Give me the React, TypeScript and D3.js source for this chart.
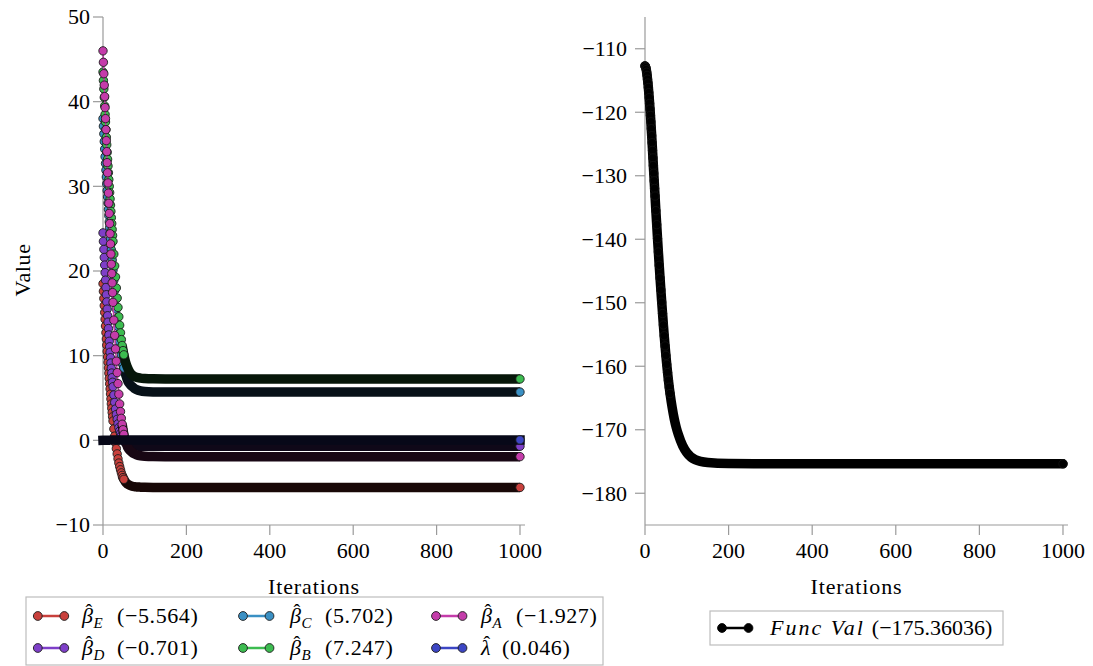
import React from "react";
import * as d3 from "d3";

const ITER = [0, 1, 2, 3, 4, 5, 6, 7, 8, 9, 10, 11, 12, 13, 14, 15, 16, 17, 18, 19, 20, 21, 22, 23, 24,
  26, 28, 30, 32, 34, 36, 38, 40, 42, 44, 46, 48, 50, 52, 54, 56, 58, 60,
  65, 70, 75, 80, 90, 100, 120, 150, 200, 300, 400, 500, 600, 700, 800, 900, 1000];

const BETA_E = [18.5, 17.6, 16.75, 15.9, 15.1, 14.3, 13.5, 12.72, 11.97, 11.23, 10.5, 9.85, 9.2, 8.55, 7.92, 7.3, 6.68, 6.07, 5.47, 4.88, 4.3, 3.78, 3.28, 2.78, 2.28,
  1.35, 0.5, -0.3, -0.98, -1.6, -2.18, -2.68, -3.1, -3.48, -3.84, -4.14, -4.4, -4.6, -4.76, -4.92, -5.04, -5.13, -5.2,
  -5.33, -5.42, -5.47, -5.5, -5.53, -5.55, -5.56, -5.563, -5.564,
  -5.564, -5.564, -5.564, -5.564, -5.564, -5.564, -5.564, -5.564];

const BETA_D = [24.5, 23.5, 22.55, 21.6, 20.7, 19.8, 18.92, 18.05, 17.2, 16.35, 15.5, 14.72, 13.96, 13.2, 12.45, 11.7, 11.05, 10.4, 9.76, 9.13, 8.5, 7.95, 7.4, 6.86, 6.33,
  5.35, 4.48, 3.7, 3.05, 2.48, 1.95, 1.5, 1.1, 0.8, 0.52, 0.28, 0.1, -0.05, -0.16, -0.26, -0.34, -0.4, -0.45,
  -0.54, -0.6, -0.64, -0.66, -0.69, -0.697, -0.699, -0.7, -0.701,
  -0.701, -0.701, -0.701, -0.701, -0.701, -0.701, -0.701, -0.701];

const BETA_C = [38.0, 37.1, 36.2, 35.3, 34.4, 33.5, 32.7, 31.9, 31.1, 30.3, 29.5, 28.76, 28.02, 27.28, 26.54, 25.8, 25.14, 24.48, 23.82, 23.16, 22.5, 21.9, 21.3, 20.7, 20.1,
  18.9, 17.7, 16.6, 15.5, 14.45, 13.45, 12.5, 11.65, 10.85, 10.12, 9.47, 8.98, 8.55, 8.15, 7.8, 7.5, 7.2, 6.95,
  6.6, 6.35, 6.15, 6.0, 5.83, 5.76, 5.715, 5.705, 5.702,
  5.702, 5.702, 5.702, 5.702, 5.702, 5.702, 5.702, 5.702];

const BETA_B = [43.5, 42.5, 41.5, 40.5, 39.5, 38.5, 37.6, 36.7, 35.8, 34.9, 34.0, 33.2, 32.4, 31.6, 30.8, 30.0, 29.26, 28.52, 27.78, 27.04, 26.3, 25.6, 24.9, 24.2, 23.5,
  22.0, 20.6, 19.3, 18.0, 16.8, 15.7, 14.6, 13.6, 12.7, 11.9, 11.2, 10.6, 10.1, 9.65, 9.27, 8.95, 8.68, 8.45,
  8.0, 7.72, 7.55, 7.45, 7.35, 7.3, 7.26, 7.25, 7.248,
  7.247, 7.247, 7.247, 7.247, 7.247, 7.247, 7.247, 7.247];

const BETA_A = [46.0, 44.65, 43.3, 41.95, 40.6, 39.3, 38.0, 36.7, 35.4, 34.1, 32.8, 31.6, 30.4, 29.2, 28.0, 26.8, 25.6, 24.4, 23.2, 22.0, 20.8, 19.7, 18.6, 17.45, 16.3,
  14.2, 12.4, 10.8, 9.35, 8.0, 6.7, 5.45, 4.3, 3.4, 2.6, 1.9, 1.25, 0.7, 0.25, -0.12, -0.42, -0.67, -0.9,
  -1.22, -1.45, -1.6, -1.7, -1.82, -1.88, -1.915, -1.925, -1.927,
  -1.927, -1.927, -1.927, -1.927, -1.927, -1.927, -1.927, -1.927];

const LAMBDA = [0, 0.002, 0.004, 0.006, 0.008, 0.01, 0.012, 0.013, 0.015, 0.016, 0.018, 0.019, 0.02, 0.021, 0.022, 0.023, 0.024, 0.025, 0.026, 0.027, 0.028, 0.029, 0.029, 0.03, 0.031,
  0.032, 0.033, 0.034, 0.035, 0.036, 0.037, 0.038, 0.038, 0.039, 0.04, 0.04, 0.041, 0.041, 0.042, 0.042, 0.042, 0.043, 0.043,
  0.044, 0.044, 0.045, 0.045, 0.045, 0.046, 0.046, 0.046, 0.046,
  0.046, 0.046, 0.046, 0.046, 0.046, 0.046, 0.046, 0.046];

const FUNC_VAL = [-112.7, -112.8, -113.0, -113.3, -113.7, -114.2, -114.8, -115.4, -116.1, -116.9, -117.7, -118.6, -119.5, -120.5, -121.5, -122.6, -123.7, -124.8, -126.0, -127.2, -128.4, -129.6, -130.8, -132.0, -133.2,
  -135.5, -137.7, -139.9, -142.0, -144.1, -146.1, -148.0, -149.9, -151.7, -153.5, -155.2, -156.8, -158.3, -159.7, -161.0, -162.2, -163.3, -164.3,
  -166.5, -168.3, -169.7, -170.8, -172.5, -173.6, -174.7, -175.15, -175.33,
  -175.36, -175.36, -175.36, -175.36, -175.36, -175.36, -175.36, -175.36];

const LEFT_Y_TICKS = [-10, 0, 10, 20, 30, 40, 50];
const RIGHT_Y_TICKS = [-180, -170, -160, -150, -140, -130, -120, -110];
const X_TICKS = [0, 200, 400, 600, 800, 1000];

// series in drawing order (E, D, C, B, A, lambda)
const SERIES_KEYS = ["E", "D", "C", "B", "A", "λ"];
const SERIES_VALUES = [BETA_E, BETA_D, BETA_C, BETA_B, BETA_A, LAMBDA];
const SERIES_FINAL = ["−5.564", "−0.701", "5.702", "7.247", "−1.927", "0.046"];
const SERIES_COLORS = ["#c8403c", "#7e3fc8", "#3a90c4", "#3cbc50", "#c43caa", "#3c46c4"];
// legend slots [column,row] for each series
const LEGEND_SLOTS = [[0, 0], [0, 1], [1, 0], [1, 1], [2, 0], [2, 1]];

const FONT = '"Liberation Serif", "Times New Roman", serif';
const AXIS_COLOR = "#9a9a9a";

const W = 1093, H = 666;

const xL = d3.scaleLinear().domain([0, 1012]).range([103, 525]);
const yL = d3.scaleLinear().domain([-10, 50]).range([525, 17]);
const xR = d3.scaleLinear().domain([0, 1012]).range([645, 1068]);
const yR = d3.scaleLinear().domain([-185, -105]).range([525, 17]);

type Pt = { it: number; v: number };
const toPts = (vals: number[]): Pt[] => ITER.map((it, i) => ({ it, v: vals[i] })).filter(d => d.v !== undefined);

const fmtTick = (v: number) => (v < 0 ? "−" + Math.abs(v) : String(v));

function Series({ pts, x, y, color, band, edge, bandFrom, dotsTo, cap }: any) {
  const line = d3.line<Pt>().x(d => x(d.it)).y(d => y(d.v)).curve(d3.curveMonotoneX);
  const bandPts = pts.filter((d: Pt) => d.it >= bandFrom);
  const early = pts.filter((d: Pt) => d.it <= dotsTo);
  const dotPts = pts.filter((d: Pt) => d.it <= dotsTo);
  const last = pts[pts.length - 1];
  return (
    <g>
      <path d={line(bandPts) || ""} fill="none" stroke={band} strokeWidth={9.5} strokeLinecap={cap || "butt"} />
      {early.length > 1 && <path d={line(early) || ""} fill="none" stroke={color} strokeWidth={1.5} />}
      {dotPts.map((d: Pt, i: number) => (
        <circle key={i} cx={x(d.it)} cy={y(d.v)} r={4.2} fill={color} stroke={edge} strokeWidth={0.9} />
      ))}
      <circle cx={x(last.it)} cy={y(last.v)} r={4.2} fill={color} stroke={edge} strokeWidth={0.9} />
    </g>
  );
}

function Axes({ x, y, yTicks, labelEnd, showYLabel }: any) {
  const [x0, x1] = x.range();
  const [y0, y1] = y.range();
  return (
    <g style={{ fontFamily: FONT }} fontSize={22} fill="#000">
      <line x1={x0} x2={x0} y1={y0} y2={y1} stroke={AXIS_COLOR} strokeWidth={1.2} />
      <line x1={x0} x2={x1} y1={y0} y2={y0} stroke={AXIS_COLOR} strokeWidth={1.2} />
      {yTicks.map((t: number) => (
        <g key={"y" + t}>
          <line x1={x0 - 10} x2={x0} y1={y(t)} y2={y(t)} stroke={AXIS_COLOR} strokeWidth={1.2} />
          <text x={labelEnd} y={y(t)} dy="0.34em" textAnchor="end" style={{ fontFamily: FONT }}>{fmtTick(t)}</text>
        </g>
      ))}
      {X_TICKS.map((t: number) => (
        <g key={"x" + t}>
          <line x1={x(t)} x2={x(t)} y1={y0} y2={y0 + 10} stroke={AXIS_COLOR} strokeWidth={1.2} />
          <text x={x(t)} y={y0 + 33} textAnchor="middle" style={{ fontFamily: FONT }}>{t}</text>
        </g>
      ))}
      <text x={(x0 + x1) / 2} y={594} textAnchor="middle" letterSpacing={0.9} style={{ fontFamily: FONT }}>Iterations</text>
      {showYLabel && (
        <text transform={`translate(30,270) rotate(-90)`} textAnchor="middle" letterSpacing={0.6} style={{ fontFamily: FONT }}>Value</text>
      )}
    </g>
  );
}

function LegendMarker({ x, y, color, edge }: any) {
  return (
    <g>
      <line x1={x} x2={x + 26.5} y1={y} y2={y} stroke={color} strokeWidth={2.5} />
      <circle cx={x} cy={y} r={4.4} fill={color} stroke={edge} strokeWidth={0.9} />
      <circle cx={x + 26.5} cy={y} r={4.4} fill={color} stroke={edge} strokeWidth={0.9} />
    </g>
  );
}

function MathLabel({ x, y, symbol, sub, value }: any) {
  const isLambda = !sub;
  const valX = isLambda ? 21 : 35;
  return (
    <g transform={`translate(${x},${y})`} style={{ fontFamily: FONT }} fontSize={22} fill="#000">
      <text x={0} y={0} fontStyle="italic" style={{ fontFamily: FONT }}>{symbol}</text>
      <text x={isLambda ? 2.5 : 3.5} y={-4} fontSize={20} style={{ fontFamily: FONT }}>ˆ</text>
      {sub && <text x={11.5} y={5} fontSize={15} fontStyle="italic" style={{ fontFamily: FONT }}>{sub}</text>}
      <text x={valX} y={0} letterSpacing={0.6} style={{ fontFamily: FONT }}>({value})</text>
    </g>
  );
}

export default function App() {
  const colX = [37.8, 243, 436];
  const textX = [82, 290, 481];
  const rowY = [616, 648];
  const fpts = toPts(FUNC_VAL);
  return (
    <svg width={W} height={H} viewBox={`0 0 ${W} ${H}`} style={{ position: "absolute", left: 0, top: 0, background: "#fff", fontFamily: FONT }}>
      <rect x={0} y={0} width={W} height={H} fill="#fff" />
      {/* Left panel */}
      <Axes x={xL} y={yL} yTicks={LEFT_Y_TICKS} labelEnd={90} showYLabel={true} />
      {SERIES_VALUES.map((vals, i) => {
        const isLambda = SERIES_KEYS[i] === "λ";
        return (
          <Series key={SERIES_KEYS[i]} pts={toPts(vals)} x={xL} y={yL} color={SERIES_COLORS[i]}
            band={d3.interpolateRgb(SERIES_COLORS[i], "#000")(0.88)} edge="#1c1c1c"
            bandFrom={isLambda ? 0 : 46} dotsTo={isLambda ? -1 : 50} cap={isLambda ? "square" : "butt"} />
        );
      })}
      {/* Right panel */}
      <Axes x={xR} y={yR} yTicks={RIGHT_Y_TICKS} labelEnd={627} showYLabel={false} />
      <Series pts={fpts} x={xR} y={yR} color="#000" band="#000" edge="#111" bandFrom={0} dotsTo={60} cap="round" />

      {/* Left legend */}
      <rect x={26} y={597} width={577} height={68} fill="#fff" stroke="#bdbdbd" strokeWidth={1.2} />
      {SERIES_KEYS.map((k, i) => {
        const [c, r] = LEGEND_SLOTS[i];
        return (
          <g key={"lg" + k}>
            <LegendMarker x={colX[c]} y={rowY[r]} color={SERIES_COLORS[i]} edge="#1c1c1c" />
            <MathLabel x={textX[c]} y={rowY[r] + 7} symbol={k === "λ" ? "λ" : "β"} sub={k === "λ" ? null : k} value={SERIES_FINAL[i]} />
          </g>
        );
      })}

      {/* Right legend */}
      <rect x={710} y={611} width={293} height={34} fill="#fff" stroke="#bdbdbd" strokeWidth={1.2} />
      <LegendMarker x={722} y={628} color="#000" edge="#000" />
      <text x={770} y={635} style={{ fontFamily: FONT }} fontSize={22}>
        <tspan fontStyle="italic" letterSpacing={2}>Func Val</tspan>
        <tspan dx={7}>(−175.36036)</tspan>
      </text>
    </svg>
  );
}
